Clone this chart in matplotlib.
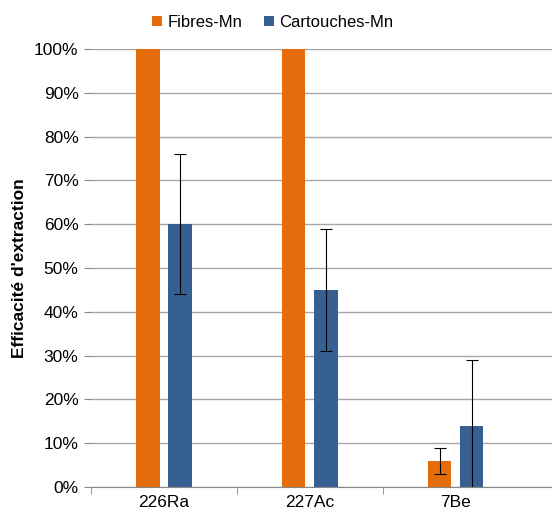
import numpy as np
import matplotlib.pyplot as plt
from matplotlib.ticker import PercentFormatter

plt.rcParams['font.family'] = ['Liberation Sans', 'DejaVu Sans']

# Données
categories = ['226Ra', '227Ac', '7Be']
fibres = [100, 100, 6]
fibres_err = [0, 0, 3]
cartouches = [60, 45, 14]
cartouches_err = [16, 14, 15]

orange = '#E46C0A'
bleu = '#376092'

fig = plt.figure(figsize=(5.52, 5.19), dpi=100)
ax = fig.add_axes([0.165, 0.0617, 0.835, 0.8439])

x = np.arange(len(categories))
w = 0.16
ax.bar(x - 0.11, fibres, w, color=orange, label='Fibres-Mn', zorder=2)
ax.bar(x + 0.11, cartouches, w, color=bleu, label='Cartouches-Mn', zorder=2)

# barres d'erreur (seulement là où il y en a)
fe = np.array(fibres_err)
m = fe > 0
ax.errorbar(x[m] - 0.11, np.array(fibres)[m], yerr=fe[m], fmt='none',
            ecolor='black', elinewidth=0.8, capsize=4, capthick=0.8, zorder=3)
ax.errorbar(x + 0.11, cartouches, yerr=cartouches_err, fmt='none',
            ecolor='black', elinewidth=0.8, capsize=4, capthick=0.8, zorder=3)

ax.set_ylim(0, 100)
ax.set_xlim(-0.5, 2.66)
ax.set_yticks(np.arange(0, 101, 10))
ax.yaxis.set_major_formatter(PercentFormatter(decimals=0))
ax.set_xticks(x)
ax.set_xticklabels(categories)
ax.set_xticks([-0.5, 0.5, 1.5], minor=True)
ax.tick_params(axis='x', which='major', length=0, pad=6, labelsize=12.5)
ax.tick_params(axis='x', which='minor', length=5, color='#888888')
ax.tick_params(axis='y', length=5, color='#888888', labelsize=12.5, pad=4)
ax.yaxis.grid(True, color='#A6A6A6', linewidth=1, zorder=0)
ax.set_axisbelow(True)
for s in ['top', 'right', 'left']:
    ax.spines[s].set_visible(False)
ax.spines['bottom'].set_color('#888888')

ax.set_ylabel("Efficacité d'extraction", fontsize=12.5, fontweight='bold', labelpad=5)

fig.legend(loc='upper center', bbox_to_anchor=(0.494, 1.0), ncol=2, frameon=False,
           fontsize=12, handlelength=0.6, handleheight=0.6, handletextpad=0.3,
           columnspacing=1.3)

fig.savefig('out.png', dpi=100)
